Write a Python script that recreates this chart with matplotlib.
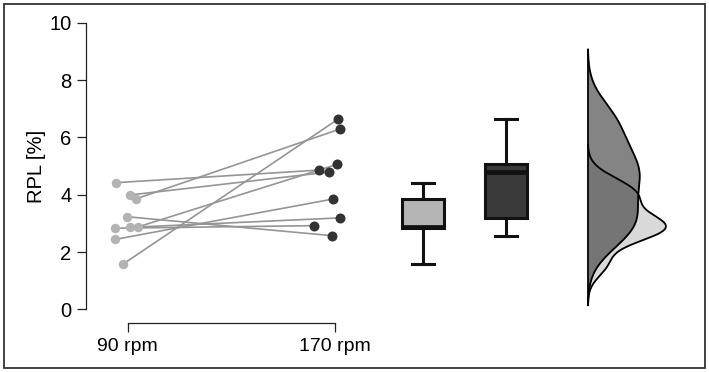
import numpy as np
import matplotlib
matplotlib.use("Agg")
import matplotlib.pyplot as plt
from matplotlib.patches import Rectangle

plt.rcParams["font.family"] = ["Liberation Sans", "DejaVu Sans"]

# RPL [%] per subject, paired 90 rpm -> 170 rpm
rpl_90 = [4.42, 3.99, 3.85, 3.23, 2.83, 2.86, 2.88, 2.44, 1.57]
rpl_170 = [4.86, 4.79, 6.29, 2.57, 2.92, 3.19, 5.06, 3.85, 6.64]
# horizontal jitter of the dots
jitter_90 = [-0.056, 0.011, 0.038, -0.002, -0.061, 0.011, 0.051, -0.061, -0.024]
jitter_170 = [-0.077, -0.032, 0.022, -0.016, -0.101, 0.022, 0.009, -0.010, 0.014]
conditions = ["90 rpm", "170 rpm"]
y_ticks = [0, 2, 4, 6, 8, 10]

light = "#b3b3b3"
dark = "#333333"


def kde_nrd0(data, cut=3, n=512):
    data = np.asarray(data)
    iqr = np.subtract(*np.percentile(data, [75, 25]))
    bw = 0.9 * min(data.std(ddof=1), iqr / 1.34) * len(data) ** -0.2
    grid = np.linspace(data.min() - cut * bw, data.max() + cut * bw, n)
    dens = np.exp(-0.5 * ((grid[:, None] - data[None, :]) / bw) ** 2).sum(1)
    dens /= len(data) * bw * np.sqrt(2 * np.pi)
    return grid, dens


fig = plt.figure(figsize=(7.09, 3.72), dpi=100)
ax = fig.add_axes([86 / 709, 1 - 309.3 / 372, 604 / 709, 286.5 / 372])
ax.set_xlim(0.799, 3.709)
ax.set_ylim(0, 10)

# paired lines and dots
x90 = 1 + np.array(jitter_90)
x170 = 2 + np.array(jitter_170)
for a, b, ya, yb in zip(x90, x170, rpl_90, rpl_170):
    ax.plot([a, b], [ya, yb], color="#959595", lw=1.2, zorder=2)
ax.plot(x90, rpl_90, "o", color=light, ms=6.8, mec="none", zorder=3)
ax.plot(x170, rpl_170, "o", color=dark, ms=7.2, mec="none", zorder=3)

# boxplots
bp = ax.boxplot([rpl_90, rpl_170], positions=[2.422, 2.822], widths=0.205,
                patch_artist=True, showfliers=False, manage_ticks=False,
                boxprops=dict(lw=2.2, color="#111111"),
                whiskerprops=dict(lw=2.2, color="#111111"),
                capprops=dict(lw=2.2, color="#111111"),
                medianprops=dict(lw=3.4, color="#111111"))
for patch, c in zip(bp["boxes"], ["#b5b5b5", "#3a3a3a"]):
    patch.set_facecolor(c)
for cap in bp["caps"]:
    m = cap.get_xdata().mean()
    cap.set_xdata([m - 0.053, m + 0.053])

# half violins (densities)
base = 3.217
g1, d1 = kde_nrd0(rpl_90)
g2, d2 = kde_nrd0(rpl_170)
w1 = d1 / d1.max() * 0.376
w2 = d2 / d2.max() * 0.25
ax.fill_betweenx(g1, base, base + w1, color="#d9d9d9", lw=0, zorder=2)
ax.plot(base + w1, g1, color="black", lw=1.3, zorder=4)
ax.fill_betweenx(g2, base, base + w2, color="#333333", alpha=0.6, lw=0, zorder=3)
ax.plot(base + w2, g2, color="black", lw=1.3, zorder=4)
lo = min(g1.min(), g2.min())
hi = max(g1.max(), g2.max())
ax.plot([base, base], [lo, hi], color="black", lw=1.3, zorder=4)

# axes styling
for s in ["top", "right"]:
    ax.spines[s].set_visible(False)
ax.spines["left"].set_bounds(0, 10)
ax.spines["bottom"].set_bounds(1, 2)
ax.spines["bottom"].set_position(("outward", 10))
for s in ["left", "bottom"]:
    ax.spines[s].set_linewidth(0.9)
    ax.spines[s].set_color("#222222")
ax.set_yticks(y_ticks)
ax.set_xticks([1, 2])
ax.set_xticklabels(conditions)
ax.tick_params(axis="both", length=6.5, width=0.9, color="#222222")
ax.tick_params(axis="y", pad=4, labelsize=14.5)
ax.tick_params(axis="x", pad=4, labelsize=14)
ax.set_ylabel("RPL [%]", fontsize=14.5, labelpad=2)

fig.patches.append(Rectangle((4 / 709, 4 / 372), 701 / 709, 364 / 372,
                             transform=fig.transFigure, fill=False,
                             edgecolor="#333333", lw=1.3))

fig.savefig("out.png", dpi=100)
